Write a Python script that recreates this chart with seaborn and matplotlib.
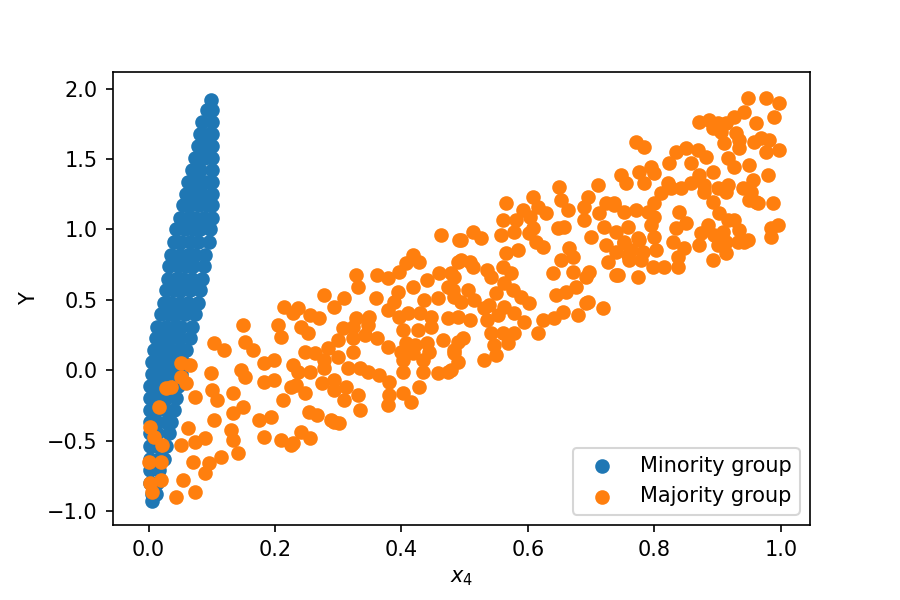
import matplotlib
matplotlib.use('Agg')
import matplotlib.pyplot as plt
import seaborn as sns

# minority group: narrow steep band near x4 = 0 .. 0.1 (one line per row of the band)
minority_x = [
    .098,
    .092, .101,
    .085, .100,
    .082, .095, .101,
    .078, .090, .101,
    .073, .087, .101,
    .068, .082, .100,
    .063, .076, .089, .101,
    .059, .071, .084, .100,
    .054, .066, .079, .092, .101,
    .049, .062, .074, .087, .100,
    .044, .057, .070, .082, .097,
    .040, .052, .065, .078, .095,
    .036, .049, .062, .074, .090,
    .033, .046, .059, .071, .087,
    .030, .043, .055, .068, .085,
    .027, .040, .052, .065, .081,
    .024, .036, .049, .062, .078,
    .019, .032, .044, .057, .073,
    .014, .027, .040, .052, .068,
    .011, .024, .036, .049, .065,
    .008, .021, .033, .046, .060,
    .006, .019, .032, .044, .055,
    .005, .017, .030, .043, .051,
    .003, .016, .028, .046,
    .002, .014, .027, .043,
    .002, .014, .027, .040,
    .002, .014, .027, .036,
    .002, .014, .032,
    .002, .014, .028,
    .003, .016, .024,
    .003, .016,
    .003, .014,
    .005, .011,
    .006,
]
minority_y = [
    1.92,
    1.85, 1.85,
    1.76, 1.76,
    1.68, 1.68, 1.68,
    1.59, 1.59, 1.59,
    1.51, 1.51, 1.51,
    1.42, 1.42, 1.42,
    1.34, 1.34, 1.34, 1.34,
    1.25, 1.25, 1.25, 1.25,
    1.17, 1.17, 1.17, 1.17, 1.17,
    1.08, 1.08, 1.08, 1.08, 1.08,
    1.00, 1.00, 1.00, 1.00, 1.00,
    0.91, 0.91, 0.91, 0.91, 0.91,
    0.82, 0.82, 0.82, 0.82, 0.82,
    0.74, 0.74, 0.74, 0.74, 0.74,
    0.65, 0.65, 0.65, 0.65, 0.65,
    0.57, 0.57, 0.57, 0.57, 0.57,
    0.48, 0.48, 0.48, 0.48, 0.48,
    0.40, 0.40, 0.40, 0.40, 0.40,
    0.31, 0.31, 0.31, 0.31, 0.31,
    0.23, 0.23, 0.23, 0.23, 0.23,
    0.14, 0.14, 0.14, 0.14, 0.14,
    0.06, 0.06, 0.06, 0.06, 0.06,
    -0.03, -0.03, -0.03, -0.03, -0.03,
    -0.11, -0.11, -0.11, -0.11,
    -0.20, -0.20, -0.20, -0.20,
    -0.28, -0.28, -0.28, -0.28,
    -0.37, -0.37, -0.37, -0.37,
    -0.45, -0.45, -0.45,
    -0.54, -0.54, -0.54,
    -0.63, -0.63, -0.63,
    -0.71, -0.71,
    -0.80, -0.80,
    -0.88, -0.88,
    -0.93,
]

# majority group: wide cloud over x4 = 0 .. 1 (x and y lines line up)
majority_x = [
    .016, .003, .008, .022, .000, .019, .003, .019, .006, .043,
    .055, .074, .051, .066, .035, .059, .051, .074, .098, .103,
    .119, .101, .109, .134, .103, .063, .051, .074, .090, .133,
    .150, .130, .134, .141, .071, .095, .114, .090, .150, .153,
    .165, .146, .153, .182, .198, .182, .198, .174, .193, .182,
    .209, .229, .212, .225, .214, .204, .209, .229, .229, .027,
    .462, .491, .418, .407, .427, .489, .328, .332, .362, .378,
    .396, .418, .441, .459, .478, .473, .277, .309, .293, .359,
    .394, .388, .435, .457, .483, .236, .256, .269, .241, .252,
    .328, .348, .378, .396, .411, .430, .446, .473, .489, .307,
    .324, .347, .402, .426, .446, .299, .324, .343, .362, .378,
    .407, .422, .441, .465, .489, .248, .264, .283, .323, .399,
    .418, .443, .483, .277, .299, .403, .434, .236, .256, .277,
    .315, .335, .347, .364, .402, .434, .457, .473, .233, .275,
    .293, .380, .293, .312, .331, .248, .309, .380, .403, .427,
    .378, .415, .335, .253, .267, .288, .301, .241, .256, .225,
    .649, .652, .663, .608, .616, .628, .565, .592, .560, .581,
    .604, .557, .578, .601, .608, .513, .525, .494, .565, .584,
    .612, .623, .647, .657, .695, .688, .688, .699, .712, .720,
    .710, .723, .736, .739, .723, .665, .652, .672, .494, .509,
    .513, .536, .541, .560, .573, .562, .639, .671, .691, .696,
    .726, .739, .483, .481, .505, .549, .576, .589, .601, .644,
    .660, .676, .494, .514, .530, .538, .562, .578, .593, .623,
    .641, .655, .679, .691, .718, .509, .536, .552, .541, .560,
    .578, .616, .498, .546, .568, .483, .489, .530, .549, .478,
    .948, .976, .997, .989, .960, .941, .926, .913, .870, .886,
    .900, .892, .905, .929, .934, .910, .934, .957, .968, .981,
    .976, .997, .771, .783, .834, .850, .869, .881, .858, .823,
    .916, .926, .949, .979, .892, .870, .747, .755, .775, .794,
    .799, .783, .821, .842, .858, .878, .900, .916, .940, .956,
    .953, .810, .826, .878, .892, .913, .949, .964, .987, .799,
    .736, .752, .771, .790, .799, .839, .902, .916, .926, .934,
    .850, .834, .884, .873, .894, .908, .758, .794, .799, .995,
    .984, .984, .774, .752, .829, .847, .870, .900, .913, .932,
    .948, .739, .758, .782, .802, .837, .913, .892, .837, .797,
    .815, .742, .774, .752, .763, .775, .760, .778, .695, .960,
    .941, .293,
]
majority_y = [
    -.263, -.405, -.476, -.533, -.654, -.654, -.803, -.782, -.867, -.903,
    -.782, -.867, .050, .036, -.121, -.092, -.050, -.192, -.021, .192,
    .142, -.142, -.213, -.163, -.355, -.412, -.533, -.512, -.483, -.306,
    -.263, -.426, -.498, -.590, -.654, -.661, -.618, -.732, .320, .199,
    .142, .000, -.050, .050, .071, -.085, -.071, -.355, -.334, -.476,
    -.498, -.519, -.213, -.121, .448, .320, .235, .405, .036, -.128,
    .959, .924, .817, .760, .768, .768, .675, .590, .675, .654,
    .697, .590, .640, .689, .689, .590, .533, .512, .448, .512,
    .554, .483, .498, .512, .519, .441, .391, .370, .306, .263,
    .370, .377, .426, .377, .405, .405, .377, .370, .377, .299,
    .306, .320, .284, .284, .306, .213, .227, .249, .227, .163,
    .192, .178, .192, .213, .199, .128, .121, .156, .128, .128,
    .121, .128, .121, .071, .092, .071, .071, -.014, -.014, .014,
    .014, .014, -.014, -.036, -.014, -.014, -.021, -.014, -.107, -.092,
    -.071, -.085, -.142, -.121, -.178, -.163, -.213, -.178, -.163, -.121,
    -.249, -.227, -.284, -.299, -.320, -.355, -.377, -.441, -.483, -.533,
    1.301, 1.208, 1.137, 1.230, 1.158, 1.116, 1.187, 1.137, 1.066, 1.066,
    1.087, .959, .981, .974, 1.009, .981, .938, .924, .832, .853,
    .910, .874, 1.009, 1.016, 1.230, 1.158, 1.066, .945, 1.116, 1.016,
    1.315, 1.187, 1.187, .981, .888, .867, .782, .803, .782, .768,
    .732, .711, .661, .732, .689, .618, .689, .697, .661, .697,
    .768, .675, .661, .569, .569, .547, .569, .519, .476, .533,
    .554, .590, .483, .498, .441, .462, .448, .405, .341, .355,
    .370, .412, .391, .476, .441, .355, .355, .391, .263, .263,
    .263, .263, .227, .178, .192, .142, .057, .071, .107, .000,
    1.933, 1.933, 1.898, 1.798, 1.755, 1.834, 1.798, 1.755, 1.763, 1.777,
    1.755, 1.720, 1.692, 1.684, 1.635, 1.613, 1.578, 1.620, 1.649, 1.635,
    1.549, 1.564, 1.620, 1.585, 1.549, 1.578, 1.564, 1.514, 1.471, 1.471,
    1.507, 1.443, 1.457, 1.386, 1.407, 1.386, 1.386, 1.329, 1.407, 1.443,
    1.400, 1.329, 1.329, 1.294, 1.329, 1.315, 1.294, 1.315, 1.294, 1.350,
    1.265, 1.258, 1.294, 1.265, 1.194, 1.265, 1.208, 1.187, 1.187, 1.187,
    1.173, 1.123, 1.137, 1.123, 1.087, 1.123, 1.116, 1.066, 1.066, .995,
    1.045, 1.009, 1.031, .974, .959, .981, 1.016, 1.031, .945, 1.031,
    1.009, .945, .938, .910, .910, .867, .888, .888, .910, .910,
    .924, .839, .817, .839, .853, .803, .832, .782, .732, .732,
    .732, .675, .661, .903, .853, .924, .782, .782, .483, 1.194,
    .910, -.370,
]


def main():
    fig, ax = plt.subplots(figsize=(6, 4), dpi=150)
    fig.subplots_adjust(left=0.125, right=0.9, bottom=0.125, top=0.88)

    # edge drawn in the face colour, like plain plt.scatter
    sns.scatterplot(x=minority_x, y=minority_y, color='#1f77b4', s=36,
                    edgecolor='face', linewidth=1.0, label='Minority group', ax=ax)
    sns.scatterplot(x=majority_x, y=majority_y, color='#ff7f0e', s=36,
                    edgecolor='face', linewidth=1.0, label='Majority group', ax=ax)

    ax.set_xlim(-0.057, 1.046)
    ax.set_ylim(-1.10, 2.118)
    ax.set_xlabel('$x_4$')
    ax.set_ylabel('Y')
    ax.legend(loc='lower right')

    fig.savefig('out.png', dpi=150)
    plt.close(fig)


if __name__ == "__main__":
    main()
